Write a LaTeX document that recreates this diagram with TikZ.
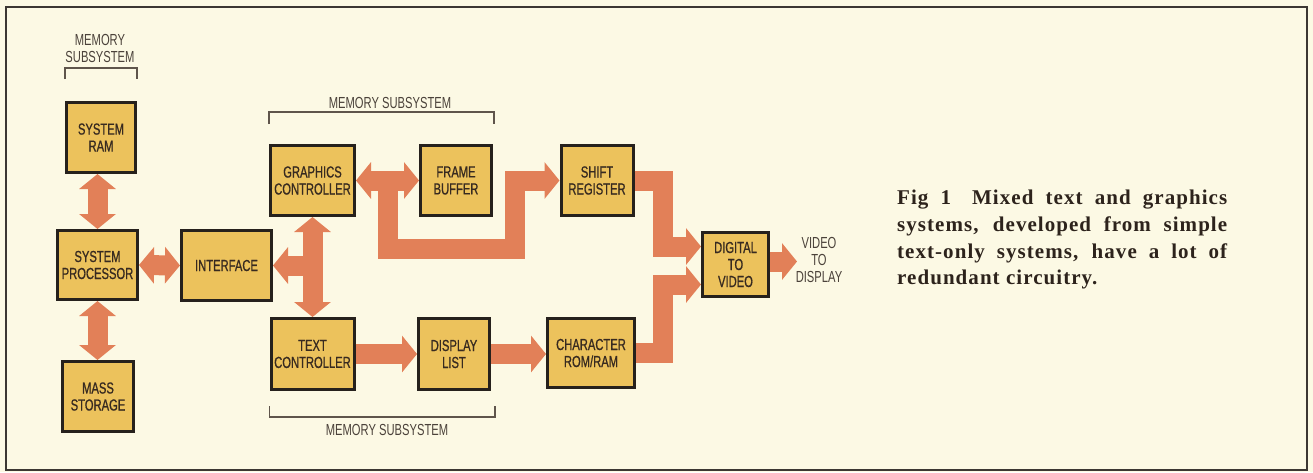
\documentclass[tikz,border=0pt]{standalone}
\usepackage{fontspec}
\usetikzlibrary{arrows.meta,calc}
\newfontfamily\condfont{Liberation Sans}[FakeStretch=0.70]
\newfontfamily\condboldfont{Liberation Sans}[FakeStretch=0.70,FakeBold=0.8]
\newfontfamily\capfont{Liberation Serif}[LetterSpace=5]
\definecolor{bgc}{RGB}{252,249,228}
\definecolor{boxc}{RGB}{236,194,92}
\definecolor{arrowc}{RGB}{226,128,88}
\definecolor{linec}{RGB}{38,33,28}
\definecolor{textc}{RGB}{55,42,32}
\definecolor{lblc}{RGB}{75,66,58}
\definecolor{brc}{RGB}{95,85,75}
\definecolor{framec}{RGB}{60,55,50}
\definecolor{capc}{RGB}{45,35,28}
\begin{document}
\begin{tikzpicture}[x=1pt,y=-1pt,
  lbl/.style={font=\condfont\fontsize{16pt}{17pt}\selectfont, text=lblc, align=center, inner sep=0pt},
  blk/.style={font=\condboldfont\fontsize{16pt}{17pt}\selectfont, text=textc, align=center, inner sep=0pt,
    draw=linec, line width=3pt, fill=boxc},
  fatline/.style={draw=arrowc, line width=20pt, line join=miter},
  fatone/.style={fatline, -{Triangle[width=36pt,length=15pt]}},
  fattwo/.style={fatline, {Triangle[width=36pt,length=15pt]}-{Triangle[width=36pt,length=15pt]}},
  brk/.style={draw=brc, line width=1.2pt},
]
\useasboundingbox (0,0) rectangle (1313,472);
\fill[bgc] (0,0) rectangle (1313,472);
\draw[framec, line width=2.5pt] (6,7) rectangle (1307,470);

% boxes
\node[blk, minimum width=69pt, minimum height=70pt] (sram) at (101,137.5) {SYSTEM\\RAM};
\node[blk, minimum width=80pt, minimum height=69pt] (sp) at (97.5,265) {SYSTEM\\PROCESSOR};
\node[blk, minimum width=71pt, minimum height=70pt] (ms) at (98,396.5) {MASS\\STORAGE};
\node[blk, minimum width=90pt, minimum height=70pt] (iface) at (226.5,265.5) {INTERFACE};
\node[blk, minimum width=84pt, minimum height=70pt] (gc) at (312.5,180.5) {GRAPHICS\\CONTROLLER};
\node[blk, minimum width=71pt, minimum height=70pt] (fb) at (456,180.5) {FRAME\\BUFFER};
\node[blk, minimum width=72pt, minimum height=70pt] (sr) at (597,180.5) {SHIFT\\REGISTER};
\node[blk, minimum width=83pt, minimum height=71pt] (tc) at (312.5,354) {TEXT\\CONTROLLER};
\node[blk, minimum width=71pt, minimum height=71pt] (dl) at (454,354) {DISPLAY\\LIST};
\node[blk, minimum width=87pt, minimum height=69pt] (cr) at (591,353) {CHARACTER\\ROM/RAM};
\node[blk, minimum width=66pt, minimum height=64pt] (d2v) at (735.5,264.5) {DIGITAL\\TO\\VIDEO};

% free labels
\node[lbl] (mlab1) at (100,48.5) {MEMORY\\SUBSYSTEM};
\node[lbl] (mlab2) at (390,103) {MEMORY SUBSYSTEM};
\node[lbl] (mlab3) at (387,430) {MEMORY SUBSYSTEM};
\node[lbl] (vout) at (819,260) {VIDEO\\TO\\DISPLAY};

% brackets
\draw[brk] ([yshift=22pt]sram.north west) -- ([yshift=33pt]sram.north west) -- ([yshift=33pt]sram.north east) -- ([yshift=22pt]sram.north east);
\draw[brk] ([yshift=20pt]gc.north west) -- ([yshift=32pt]gc.north west) -- ([yshift=32pt,xshift=1pt]fb.north east) -- ([yshift=20pt,xshift=1pt]fb.north east);
\draw[brk] ([yshift=-15pt]tc.south west) -- ([yshift=-26pt]tc.south west) -- ([yshift=-26pt,xshift=4pt]dl.south east) -- ([yshift=-15pt,xshift=4pt]dl.south east);

% coordinates
\coordinate (j1) at ($(gc.east)!0.5!(fb.west)$);
\coordinate (b1) at (514.5,248.5);
\coordinate (vx) at (662.5,0);
\coordinate (dinA) at ($(d2v.west)+(0,-18)$);
\coordinate (dinB) at ($(d2v.west)+(0,20)$);
\coordinate (dout) at (797,261.5);

% fat arrows
\draw[fattwo] (sp.north) -- (sp.north |- sram.south);
\draw[fattwo] (sp.south) -- (sp.south |- ms.north);
\draw[fattwo] (sp.east) -- (iface.west);
\draw[fattwo] (gc.south) -- (tc.north);
\draw[fatone] (gc.south |- iface.east) -- (iface.east);
\draw[fattwo] (gc.east) -- (fb.west);
\draw[fatone] (j1) |- (b1) |- (sr.west);
\draw[fatone] (tc.east) -- (dl.west);
\draw[fatone] (dl.east) -- (dl.east -| cr.west);
\draw[fatone] (sr.east) -| (vx |- dinA) -- (dinA);
\draw[fatone] (cr.east) -| (vx |- dinB) -- (dinB);
\draw[fatone] ($(d2v.east)+(0,-3)$) -- (dout);

% caption
\node[anchor=north west, inner sep=0pt, align=left, text=capc,
  font=\capfont\bfseries\fontsize{21pt}{26.7pt}\selectfont] (cap) at (897,190)
  {\makebox[330pt][s]{Fig 1\quad Mixed text and graphics}\\
   \makebox[330pt][s]{systems, developed from simple}\\
   \makebox[330pt][s]{text-only systems, have a lot of}\\
   redundant circuitry.};
\end{tikzpicture}
\end{document}
